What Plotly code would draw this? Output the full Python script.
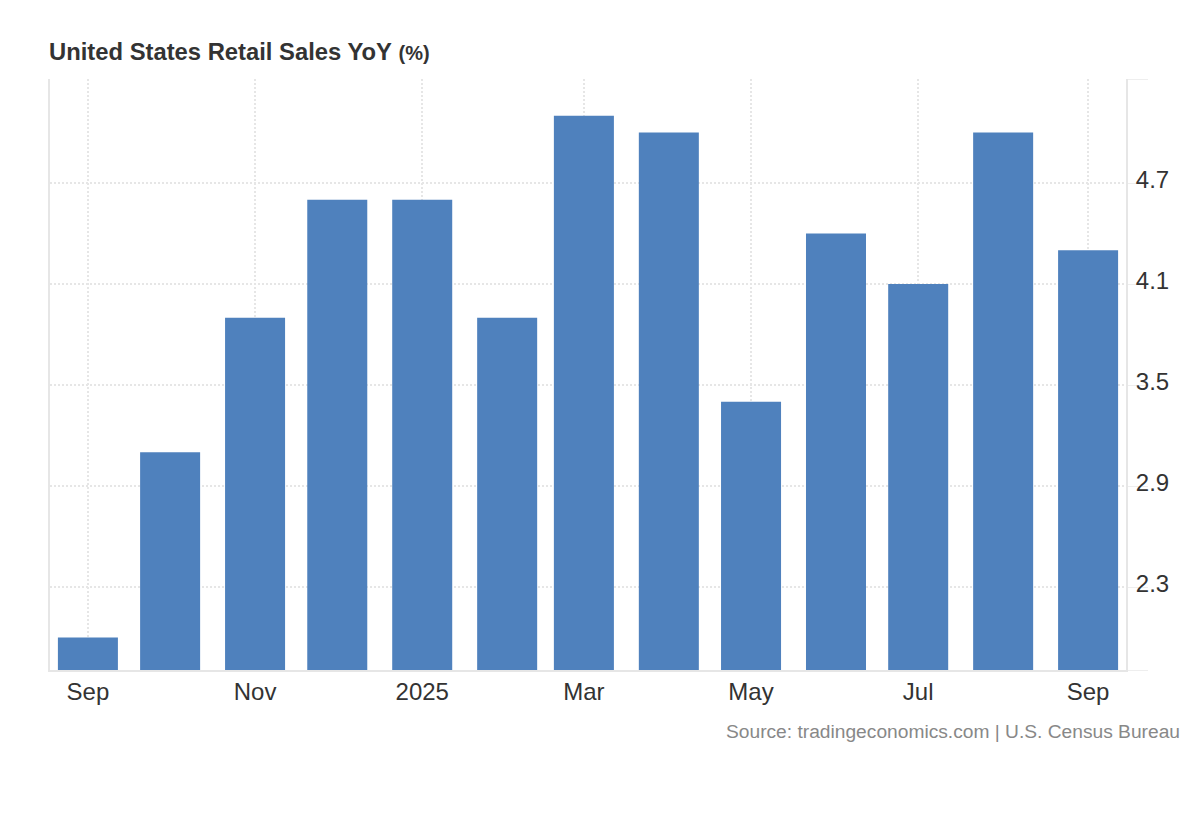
"""
United States Retail Sales YoY bar chart
"""
import plotly.graph_objects as go

months = ['2024-09-01', '2024-10-01', '2024-11-01', '2024-12-01', '2025-01-01',
          '2025-02-01', '2025-03-01', '2025-04-01', '2025-05-01', '2025-06-01',
          '2025-07-01', '2025-08-01', '2025-09-01']
retail_yoy = [2.0, 3.1, 3.9, 4.6, 4.6, 3.9, 5.1, 5.0, 3.4, 4.4, 4.1, 5.0, 4.3]

x_ticks = ['2024-09-01', '2024-11-01', '2025-01-01', '2025-03-01',
           '2025-05-01', '2025-07-01', '2025-09-01']
x_labels = ['Sep', 'Nov', '2025', 'Mar', 'May', 'Jul', 'Sep']

y_min = 1.807
y_max = 5.318
y_ticks = [y_min, 2.3, 2.9, 3.5, 4.1, 4.7, y_max]
y_labels = ['', '2.3', '2.9', '3.5', '4.1', '4.7', '']

DAY_MS = 86400000
FONT = 'Liberation Sans'

fig = go.Figure(go.Bar(
    x=months,
    y=retail_yoy,
    width=21.9 * DAY_MS,
    marker=dict(color='#4f81bd', line=dict(width=0)),
    hovertemplate="%{x|%b %Y}: %{y}%<extra></extra>"
))

# page body adds an 8px margin, so the figure is 8px smaller than the window
fig.update_layout(
    width=1192,
    height=812,
    margin=dict(l=42, r=74, t=71, b=150, autoexpand=False),
    paper_bgcolor='white',
    plot_bgcolor='white',
    showlegend=False,
    font=dict(family=FONT, color='#333333', size=24),
    xaxis=dict(
        type='date',
        range=['2024-08-18 04:00', '2025-09-14 20:00'],
        tickmode='array',
        tickvals=x_ticks,
        ticktext=x_labels,
        showgrid=True,
        gridcolor='#e6e6e6',
        griddash='2px,2px',
        gridwidth=1.5,
        showline=True,
        linecolor='#e6e6e6',
        linewidth=2,
        ticks='',
        tickfont=dict(size=24, color='#333333'),
        ticklabelstandoff=-1
    ),
    yaxis=dict(
        side='right',
        range=[y_min, y_max],
        tickmode='array',
        tickvals=y_ticks,
        ticktext=y_labels,
        showgrid=True,
        gridcolor='#e6e6e6',
        griddash='2px,2px',
        gridwidth=1.5,
        zeroline=False,
        showline=True,
        mirror=True,
        linecolor='#e6e6e6',
        linewidth=2,
        ticks='outside',
        ticklen=20,
        tickcolor='#eeeeee',
        tickwidth=1,
        tickfont=dict(size=24, color='#333333'),
        ticklabelstandoff=-17,
        ticklabelshift=-3
    ),
    annotations=[
        dict(
            text="<b>United States Retail Sales YoY</b> <b style='font-size:20px'>(%)</b>",
            xref='paper', yref='paper', x=0, y=1,
            xshift=-3, yshift=12,
            xanchor='left', yanchor='bottom',
            showarrow=False,
            font=dict(family=FONT, size=23.8, color='#333333')
        ),
        dict(
            text="Source: tradingeconomics.com | U.S. Census Bureau",
            xref='paper', yref='paper', x=1, y=0,
            xshift=56, yshift=-49,
            xanchor='right', yanchor='top',
            showarrow=False,
            font=dict(family=FONT, size=19.2, color='#888888')
        )
    ]
)

fig.write_html("out.html")
